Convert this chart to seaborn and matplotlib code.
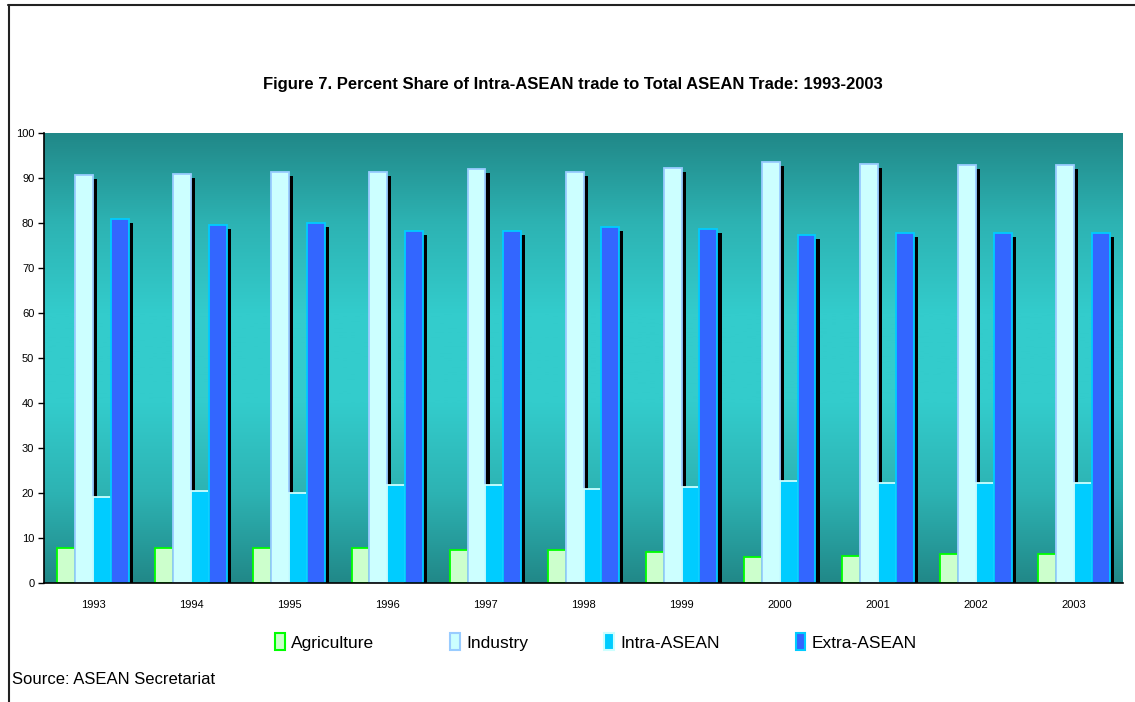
import numpy as np
import pandas as pd
import matplotlib
matplotlib.use("Agg")
import matplotlib.pyplot as plt
import matplotlib.patheffects as pe
from matplotlib.lines import Line2D
from matplotlib.colors import LinearSegmentedColormap
import seaborn as sns

years = ["1993", "1994", "1995", "1996", "1997", "1998", "1999", "2000", "2001", "2002", "2003"]
agriculture = [7.8, 7.8, 7.8, 7.8, 7.3, 7.3, 6.8, 5.7, 6.0, 6.5, 6.5]
industry = [90.6, 91.0, 91.4, 91.4, 91.9, 91.4, 92.2, 93.6, 93.2, 92.8, 92.8]
intra_asean = [19.2, 20.5, 20.1, 21.8, 21.8, 20.9, 21.3, 22.6, 22.2, 22.2, 22.2]
extra_asean = [80.8, 79.6, 80.0, 78.3, 78.2, 79.1, 78.7, 77.4, 77.8, 77.8, 77.8]
series_names = ["Agriculture", "Industry", "Intra-ASEAN", "Extra-ASEAN"]
y_ticks = [0, 10, 20, 30, 40, 50, 60, 70, 80, 90, 100]

face_colors = ["#CCFFCC", "#CCFFFF", "#00CCFF", "#3366FF"]
edge_colors = ["#00FF00", "#99CCFF", "#CCFFFF", "#00CCFF"]

df = pd.DataFrame({
    "year": years * 4,
    "series": sum([[s] * len(years) for s in series_names], []),
    "value": agriculture + industry + intra_asean + extra_asean,
})

sns.set_theme(style="white")
plt.rcParams["font.family"] = ["Liberation Sans", "DejaVu Sans"]
plt.rcParams["text.color"] = "black"
plt.rcParams["xtick.color"] = "black"
plt.rcParams["ytick.color"] = "black"

fig = plt.figure(figsize=(11.35, 7.02), dpi=100)
ax = fig.add_axes([44 / 1135, 119 / 702, (1123 - 44) / 1135, (583 - 133) / 702])

sns.barplot(data=df, x="year", y="value", hue="series", hue_order=series_names,
            palette=face_colors, width=0.73, ax=ax, legend=False, saturation=1)

shadow = [pe.SimplePatchShadow(offset=(3.0, -2.9), shadow_rgbFace="black", alpha=1.0), pe.Normal()]
for cont, ec in zip(ax.containers, edge_colors):
    for p in cont.patches:
        p.set_edgecolor(ec)
        p.set_linewidth(1.3)
        p.set_path_effects(shadow)
        p.set_zorder(3)

ax.set_xlim(-0.5, len(years) - 0.5)
ax.set_ylim(0, 100)

# gradient background
cmap = LinearSegmentedColormap.from_list("bg", ["#218888", "#2DB3B3", "#33CCCC", "#33CCCC", "#2DB3B3", "#218888"])
grad = np.linspace(0, 1, 256).reshape(-1, 1)
ax.imshow(grad, extent=[-0.5, len(years) - 0.5, 0, 100], aspect="auto", cmap=cmap,
          origin="lower", zorder=0)

ax.set_yticks(y_ticks)
ax.set_yticklabels([str(v) for v in y_ticks], fontsize=8)
ax.set_xticks(range(len(years)))
ax.set_xticklabels(years, fontsize=8)
ax.set_xticks(np.arange(-0.5, len(years), 1.0), minor=True)
ax.tick_params(axis="x", which="major", length=0, pad=12, labelcolor="black")
ax.tick_params(axis="x", which="minor", length=4, width=1, color="black", direction="out")
ax.tick_params(axis="y", length=4, width=1, color="black", direction="out", pad=3, left=True,
               labelcolor="black")
ax.set_xlabel("")
ax.set_ylabel("")
for s in ["top", "right"]:
    ax.spines[s].set_visible(False)
for s in ["left", "bottom"]:
    ax.spines[s].set_color("black")
    ax.spines[s].set_linewidth(1.2)
    ax.spines[s].set_zorder(5)

# legend
handles = [plt.Rectangle((0, 0), 1, 1, facecolor=fc, edgecolor=ec, linewidth=1.5)
           for fc, ec in zip(face_colors, edge_colors)]
leg = fig.legend(handles, series_names, loc="center", bbox_to_anchor=(0.525, 1 - 642 / 702),
                 ncol=4, frameon=False, fontsize=12.5, handlelength=0.55, handleheight=1.1,
                 handletextpad=0.35, columnspacing=4.4)
for t in leg.get_texts():
    t.set_color("black")

fig.text(573 / 1135, 1 - 84 / 702,
         "Figure 7. Percent Share of Intra-ASEAN trade to Total ASEAN Trade: 1993-2003",
         ha="center", va="center", fontsize=12, fontweight="bold", color="black")
fig.text(12 / 1135, 1 - 680 / 702, "Source: ASEAN Secretariat", ha="left", va="center",
         fontsize=12, color="black")

fig.add_artist(Line2D([8 / 1135, 1], [1 - 5 / 702, 1 - 5 / 702], color="#222222", lw=1.5))
fig.add_artist(Line2D([9 / 1135, 9 / 1135], [0, 1 - 5 / 702], color="#222222", lw=1.5))

fig.savefig("out.png", dpi=100, facecolor="white")
